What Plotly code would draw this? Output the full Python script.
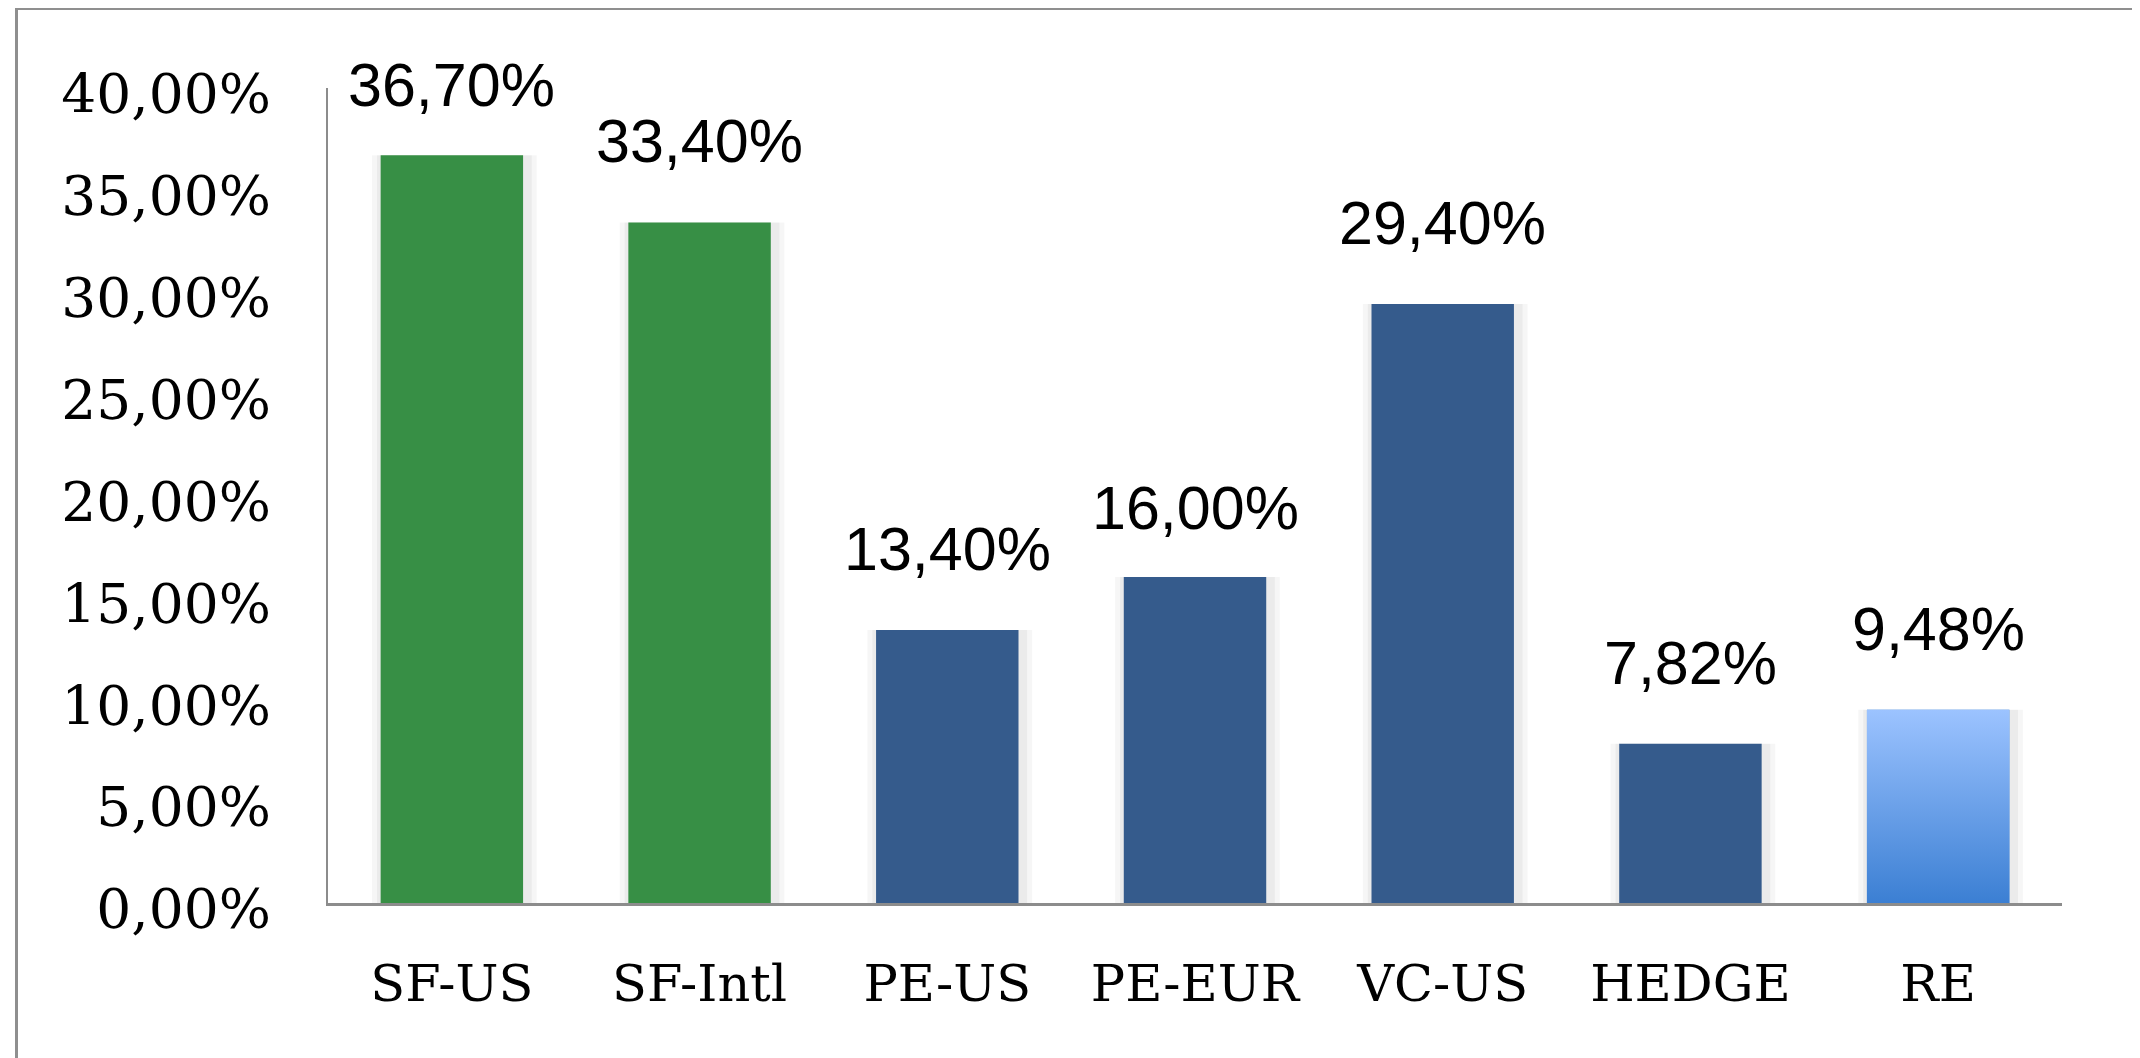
import plotly.graph_objects as go

# ---- data ----
categories = ["SF-US", "SF-Intl", "PE-US", "PE-EUR", "VC-US", "HEDGE", "RE"]
returns = [0.367, 0.334, 0.134, 0.160, 0.294, 0.0782, 0.0948]
groups = ["SF", "SF", "PE", "PE", "VC", "HEDGE", "RE"]
y_ticks = [0.0, 0.05, 0.10, 0.15, 0.20, 0.25, 0.30, 0.35, 0.40]

# ---- style ----
GREEN = "#378F45"
BLUE = "#355B8C"
RE_BOTTOM = "#3B7FD3"
RE_TOP = "#9CC3FF"
BAR_WIDTH = 0.575
AXIS_GREY = "#8C8C8C"
LABEL_SHIFT_DEFAULT = 81
LABEL_SHIFT = {"SF-US": 70, "PE-EUR": 69}

colors = [GREEN if g == "SF" else (RE_BOTTOM if g == "RE" else BLUE) for g in groups]
xs = list(range(len(categories)))


def fmt(v):
    return f"{v*100:.2f}%".replace(".", ",")


fig = go.Figure()

# soft glow/shadow behind bars
for extra, alpha in [(0.09, 0.035), (0.05, 0.045)]:
    fig.add_trace(go.Bar(
        x=[x + 0.01 for x in xs], y=returns, width=BAR_WIDTH + extra,
        marker=dict(color=f"rgba(0,0,0,{alpha})", line=dict(width=0)),
        hoverinfo="skip", showlegend=False,
    ))
fig.add_trace(go.Bar(
    x=xs, y=returns, width=BAR_WIDTH,
    marker=dict(color=colors, line=dict(width=0)),
    showlegend=False,
))
fig.update_layout(barmode="overlay")

# gradient fill for the RE bar
for i, g in enumerate(groups):
    if g == "RE":
        x0, x1 = xs[i] - BAR_WIDTH / 2, xs[i] + BAR_WIDTH / 2
        fig.add_trace(go.Scatter(
            x=[x0, x1, x1, x0, x0], y=[0, 0, returns[i], returns[i], 0],
            mode="lines", line=dict(width=0), fill="toself",
            fillgradient=dict(type="vertical",
                              colorscale=[[0, RE_BOTTOM], [1, RE_TOP]]),
            hoverinfo="skip", showlegend=False,
        ))

# value labels
for c, x, v in zip(categories, xs, returns):
    fig.add_annotation(
        x=x, y=v, text=fmt(v), showarrow=False,
        yanchor="middle", yshift=LABEL_SHIFT.get(c, LABEL_SHIFT_DEFAULT),
        font=dict(family="Liberation Sans, Arial, sans-serif", size=61, color="#000000"),
    )

# the page body adds an 8px margin, so the figure is 8px smaller each way
L, R, T, B = 320, 78, 80, 155
W, H = 2132, 1050
pw = W - L - R
ph = H - T - B


def px_x(p):
    return (p - L) / pw


def px_y(p):
    return (H - B - p) / ph


# outer frame: only the left and top edges are inside the picture
fig.add_shape(type="line", xref="paper", yref="paper",
              x0=px_x(8.5), x1=px_x(8.5), y0=px_y(H + 10), y1=px_y(0),
              line=dict(color="#8F8F8F", width=3), layer="below")
fig.add_shape(type="line", xref="paper", yref="paper",
              x0=px_x(7), x1=px_x(W + 10), y0=px_y(1), y1=px_y(1),
              line=dict(color="#8F8F8F", width=2), layer="below")

fig.update_layout(
    width=W, height=H,
    margin=dict(l=L, r=R, t=T, b=B, pad=0),
    paper_bgcolor="white", plot_bgcolor="white",
    separators=",.",
    xaxis=dict(
        range=[-0.5, len(categories) - 0.5],
        tickvals=xs, ticktext=categories,
        showgrid=False, zeroline=False,
        showline=True, linecolor=AXIS_GREY, linewidth=3,
        ticks="", ticklabelstandoff=34,
        tickfont=dict(family="DejaVu Serif, serif", size=51, color="#000000"),
        fixedrange=True,
    ),
    yaxis=dict(
        range=[0, 0.40],
        tickvals=y_ticks, tickformat=".2%",
        showgrid=False, zeroline=False,
        showline=True, linecolor=AXIS_GREY, linewidth=2,
        ticks="", ticklabelstandoff=44, ticklabelshift=6,
        tickfont=dict(family="DejaVu Serif, serif", size=55, color="#000000"),
        fixedrange=True,
    ),
)

fig.write_html("out.html")
